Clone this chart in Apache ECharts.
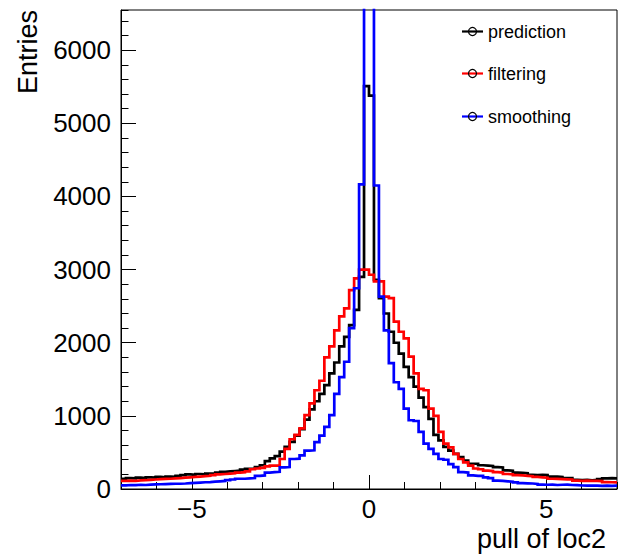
<!DOCTYPE html>
<html>
<head>
<meta charset="utf-8">
<script src="https://cdn.jsdelivr.net/npm/echarts@6/dist/echarts.min.js"></script>
<style>
html,body{margin:0;padding:0;background:#fff;}
#chart{width:620px;height:557px;}
</style>
</head>
<body>
<div id="chart"></div>
<script>
// Histogram binning: 100 bins from -7 to 7
const binLow = -7;
const binWidth = 0.14;

const prediction = [
  140,150,145,155,150,
  160,155,165,160,170,165,
  180,190,200,195,205,200,210,215,
  225,235,240,245,
  250,265,275,
  280,300,325,380,420,450,510,575,645,730,
  820,950,1090,1200,1300,1420,1580,1730,1950,2080,
  2240,2450,2900,5510,5380,
  2860,2610,2400,2150,2000,1850,1670,1530,1400,1250,
  1120,960,740,665,575,525,480,435,390,345,
  345,325,320,315,300,295,255,250,225,220,
  215,195,190,195,190,170,168,165,150,148,
  125,122,125,120,125,135,145,148,145
];

const filtering = [
  110,115,112,118,120,125,
  130,135,138,140,145,
  150,155,160,165,
  170,175,180,190,
  200,205,210,
  215,225,230,240,
  270,280,290,310,320,
  320,410,550,680,740,
  830,1010,1170,1350,1480,
  1800,1950,2170,2360,2470,
  2720,2880,3000,3000,2930,
  2840,2840,2630,2610,2290,2150,2060,1810,1580,1370,
  1350,1100,1000,780,620,570,480,410,365,320,
  280,270,250,245,230,225,205,200,190,185,
  180,175,165,160,155,140,138,135,132,130,
  115,112,115,110,112,108,95,92,90
];

const smoothing = [
  50,55,52,58,55,60,
  62,65,68,70,72,
  72,75,80,85,
  88,92,95,100,105,110,
  120,130,
  140,140,145,
  150,180,185,225,230,235,295,300,410,415,
  460,525,530,640,730,850,1010,1300,1530,1740,
  2200,2745,4165,8200,7900,
  4150,2630,2170,1720,1460,1370,1100,940,930,780,
  620,550,480,410,400,340,300,230,225,185,
  180,180,160,150,115,110,105,100,90,80,
  78,75,70,60,58,60,55,58,60,55,
  52,48,45,48,46,44,46,42,45
];

const seriesNames = ['prediction', 'filtering', 'smoothing'];
const seriesColors = ['#000000', '#ff0000', '#0000ff'];
const xMajorTicks = [-5, 0, 5];
const yMajorTicks = [0, 1000, 2000, 3000, 4000, 5000, 6000];
const xMin = -7, xMax = 7, yMin = 0, yMax = 6550;

function toSteps(counts) {
  const pts = counts.map((v, i) => [binLow + i * binWidth, v]);
  pts.push([binLow + counts.length * binWidth, counts[counts.length - 1]]);
  return pts;
}

const FONT = 'Liberation Sans, Arial, Helvetica, sans-serif';
const chart = echarts.init(document.getElementById('chart'), null, {renderer: 'svg'});

const allData = [prediction, filtering, smoothing];

const legendY = [31.5, 73.5, 116.5];
const legendGraphics = [];
seriesNames.forEach((name, k) => {
  const y = legendY[k];
  legendGraphics.push({
    type: 'line', shape: {x1: 462, y1: y, x2: 483, y2: y},
    style: {stroke: seriesColors[k], lineWidth: 2.2}, z: 100
  });
  legendGraphics.push({
    type: 'circle', shape: {cx: 472.5, cy: y, r: 4},
    style: {stroke: '#000', lineWidth: 1.2, fill: 'none'}, z: 101
  });
  legendGraphics.push({
    type: 'text', x: 488, y: y,
    style: {text: name, fill: '#000', font: '18px ' + FONT, textVerticalAlign: 'middle', textAlign: 'left'},
    z: 101
  });
});

const option = {
  animation: false,
  backgroundColor: '#ffffff',
  grid: {left: 121, right: 3, top: 10, bottom: 68, show: true, borderColor: '#000', borderWidth: 1, backgroundColor: 'transparent'},
  xAxis: [
    {
      type: 'value', min: xMin, max: xMax, position: 'bottom',
      axisLine: {show: true, onZero: false, lineStyle: {color: '#000', width: 1}},
      axisTick: {show: true, inside: true, length: 14, customValues: xMajorTicks, lineStyle: {color: '#000', width: 1}},
      axisLabel: {
        show: true, customValues: xMajorTicks, margin: 7,
        color: '#000', fontSize: 26, fontFamily: FONT,
        formatter: v => (v < 0 ? '\u2212' + Math.abs(v) : String(v))
      },
      splitLine: {show: false}
    },
    {
      type: 'value', min: xMin, max: xMax, interval: 1, position: 'bottom',
      axisLine: {show: false, onZero: false},
      axisTick: {show: true, inside: true, length: 7, lineStyle: {color: '#000', width: 1}},
      axisLabel: {show: false},
      splitLine: {show: false}
    }
  ],
  yAxis: [
    {
      type: 'value', min: yMin, max: yMax, position: 'left',
      axisLine: {show: true, onZero: false, lineStyle: {color: '#000', width: 1}},
      axisTick: {show: true, inside: true, length: 15, customValues: yMajorTicks, lineStyle: {color: '#000', width: 1}},
      axisLabel: {show: true, customValues: yMajorTicks, margin: 10, color: '#000', fontSize: 26, fontFamily: FONT,
        formatter: v => String(v)},
      splitLine: {show: false}
    },
    {
      type: 'value', min: yMin, max: yMax, interval: 200, position: 'left',
      axisLine: {show: false, onZero: false},
      axisTick: {show: true, inside: true, length: 7.5, lineStyle: {color: '#000', width: 1}},
      axisLabel: {show: false},
      splitLine: {show: false}
    }
  ],
  series: allData.map((d, k) => ({
    name: seriesNames[k],
    type: 'line',
    step: 'end',
    data: toSteps(d),
    xAxisIndex: 0, yAxisIndex: 0,
    showSymbol: false, symbol: 'none',
    clip: true,
    silent: true,
    z: 2 + k,
    lineStyle: {color: seriesColors[k], width: 2.7, join: 'miter'}
  })),
  graphic: [
    {
      type: 'text', x: 28, y: 10, rotation: Math.PI / 2,
      style: {text: 'Entries', fill: '#000', font: '27px ' + FONT, textAlign: 'right', textVerticalAlign: 'middle'}
    },
    {
      type: 'text', x: 606, y: 539,
      style: {text: 'pull of loc2', fill: '#000', font: '27px ' + FONT, textAlign: 'right', textVerticalAlign: 'middle'}
    }
  ].concat(legendGraphics)
};

chart.setOption(option);
</script>
</body>
</html>
